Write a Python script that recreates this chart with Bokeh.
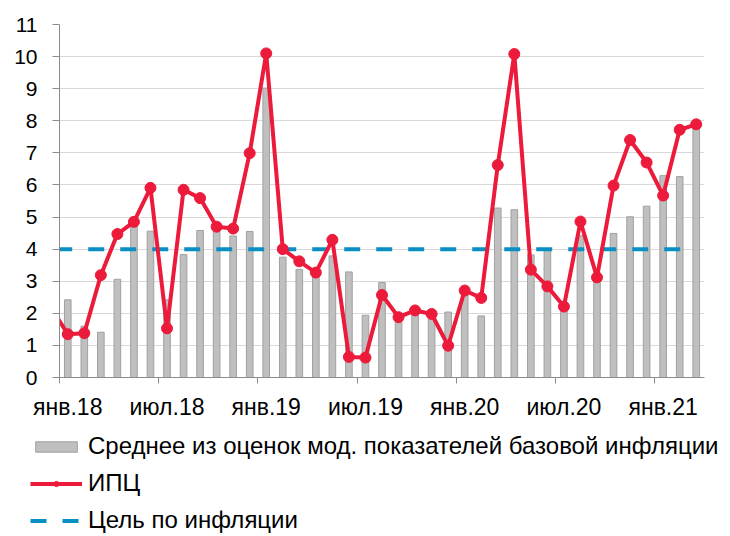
from bokeh.plotting import figure
from bokeh.layouts import column
from bokeh.models import Range1d, FixedTicker, Legend, LegendItem, ColumnDataSource
from bokeh.embed import file_html
from bokeh.resources import INLINE

# ---- data ----
# month index 0 = янв.18 ... 38 = мар.21
core = [2.42, 1.60, 1.41, 3.06, 4.73, 4.56, 2.42, 3.83, 4.58, 4.57, 4.41, 4.55,
        9.02, 3.75, 3.37, 3.25, 3.79, 3.29, 1.94, 2.96, 1.85, 1.97, 1.90, 2.04,
        2.65, 1.92, 5.28, 5.23, 3.82, 3.98, 2.20, 4.42, 3.05, 4.49, 5.01, 5.34,
        6.29, 6.26, 7.80]
# CPI starts one month earlier (дек.17), that point lies outside the visible range
cpi_start = -1
cpi = [2.17, 1.35, 1.38, 3.19, 4.47, 4.85, 5.91, 1.53, 5.85, 5.59, 4.70, 4.64,
       6.99, 10.10, 4.00, 3.62, 3.27, 4.29, 0.64, 0.62, 2.57, 1.88, 2.09, 1.98,
       0.99, 2.71, 2.48, 6.62, 10.08, 3.36, 2.84, 2.21, 4.86, 3.12, 5.98, 7.40,
       6.70, 5.67, 7.72, 7.89]
target = 4.0
tick_pos = [0, 6, 12, 18, 24, 30, 36]
tick_labels = ["янв.18", "июл.18", "янв.19", "июл.19", "янв.20", "июл.20", "янв.21"]
y_ticks = list(range(0, 12))

label_core = "Среднее из оценок мод. показателей базовой инфляции"
label_cpi = "ИПЦ"
label_target = "Цель по инфляции"

FONT = "Liberation Sans"
RED = "#EC1B3B"
BLUE = "#0A8FC4"
BAR_FILL = "#BFBFBF"
BAR_LINE = "#A0A0A0"

x_core = list(range(len(core)))
x_cpi = [cpi_start + i for i in range(len(cpi))]

p = figure(width=728, height=430, output_backend="svg", toolbar_location=None,
           x_range=Range1d(-0.5, 38.5), y_range=Range1d(0, 11),
           min_border_left=59, min_border_right=24, min_border_top=24,
           min_border_bottom=53)
p.frame_align = False
p.outline_line_color = None
p.background_fill_color = "white"
p.border_fill_color = "white"

# grid
p.xgrid.grid_line_color = None
p.ygrid.ticker = FixedTicker(ticks=y_ticks)
p.ygrid.grid_line_color = "#D9D9D9"
p.ygrid.grid_line_width = 1

# y axis
p.yaxis.ticker = FixedTicker(ticks=y_ticks)
p.yaxis.axis_line_color = "#8C8C8C"
p.yaxis.major_tick_line_color = "#8C8C8C"
p.yaxis.major_tick_out = 7
p.yaxis.major_tick_in = 0
p.yaxis.minor_tick_line_color = None
p.yaxis.major_label_text_font = FONT
p.yaxis.major_label_text_font_size = "21px"
p.yaxis.major_label_text_color = "#000000"
p.yaxis.major_label_standoff = 15

# x axis: labels at mid-month, tick marks at month boundaries (minor ticks)
minor = [t - 0.5 for t in tick_pos]
p.xaxis.ticker = FixedTicker(ticks=tick_pos, minor_ticks=minor)
p.xaxis.major_label_overrides = {t: l for t, l in zip(tick_pos, tick_labels)}
p.xaxis.axis_line_color = "#8C8C8C"
p.xaxis.major_tick_line_color = None
p.xaxis.major_tick_out = 0
p.xaxis.major_tick_in = 0
p.xaxis.minor_tick_line_color = "#8C8C8C"
p.xaxis.minor_tick_out = 6
p.xaxis.minor_tick_in = 0
p.xaxis.major_label_text_font = FONT
p.xaxis.major_label_text_font_size = "23px"
p.xaxis.major_label_text_color = "#000000"
p.xaxis.major_label_standoff = 10

# bars
src_core = ColumnDataSource(dict(x=x_core, top=core))
p.vbar(x="x", top="top", width=0.4, source=src_core,
       fill_color=BAR_FILL, line_color=BAR_LINE, line_width=1)

# target line
p.line(x=[x_cpi[0], x_core[-1]], y=[target, target], line_color=BLUE,
       line_width=4, line_dash="16 16", line_dash_offset=27)

# CPI
src_cpi = ColumnDataSource(dict(x=x_cpi, y=cpi))
p.line(x="x", y="y", source=src_cpi, line_color=RED, line_width=4)
p.scatter(x="x", y="y", source=src_cpi, size=11, fill_color=RED, line_color=RED)

# ---- legend panel (separate figure so the legend is not clipped) ----
lg = figure(width=728, height=104, output_backend="svg", toolbar_location=None,
            x_range=Range1d(0, 1), y_range=Range1d(0, 1),
            x_axis_location=None, y_axis_location=None,
            min_border_left=0, min_border_right=0, min_border_top=0,
            min_border_bottom=0)
lg.frame_align = False
lg.grid.grid_line_color = None
lg.outline_line_color = None
lg.border_fill_color = "white"

# legend-only renderers: their single data points lie outside the visible range
r_bar = lg.vbar(x=[-5], top=[-5], width=0.4, fill_color=BAR_FILL, line_color=BAR_LINE)
r_line = lg.line(x=[-5, -4], y=[-5, -5], line_color=RED, line_width=4)
r_pt = lg.scatter(x=[-5], y=[-5], size=13, fill_color=RED, line_color=RED)
r_tgt = lg.line(x=[-5, -4], y=[-5, -5], line_color=BLUE, line_width=4,
                line_dash="16 16", line_dash_offset=0)

legend = Legend(items=[
    LegendItem(label=label_core, renderers=[r_bar]),
    LegendItem(label=label_cpi, renderers=[r_line, r_pt]),
    LegendItem(label=label_target, renderers=[r_tgt]),
], location=(30, 0), orientation="vertical")
legend.padding = 0
legend.margin = 0
legend.border_line_color = None
legend.background_fill_alpha = 0
legend.glyph_width = 52
legend.glyph_height = 13
legend.label_height = 27
legend.spacing = 9
legend.label_standoff = 6
legend.label_text_font = FONT
legend.label_text_font_size = "24px"
legend.label_text_color = "#000000"
legend.label_text_baseline = "middle"
lg.add_layout(legend, "center")

layout = column(p, lg, spacing=0)
open("out.html", "w").write(file_html(layout, INLINE))
